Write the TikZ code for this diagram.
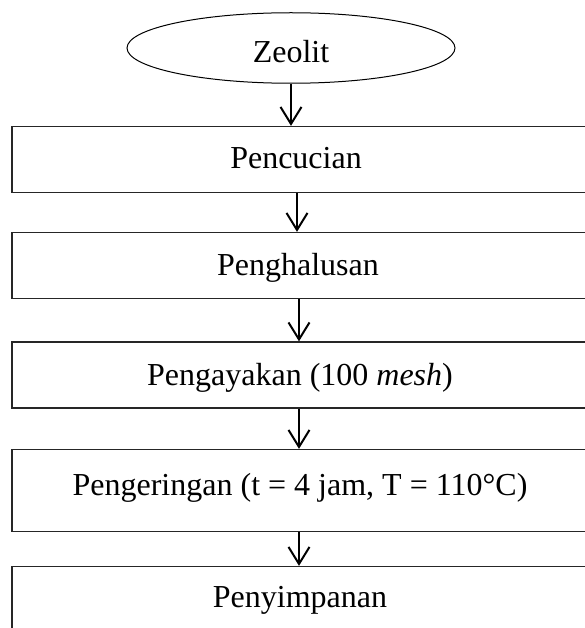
\documentclass[tikz,border=0pt]{standalone}
\usepackage{fontspec}
\setmainfont{Liberation Serif}
\usetikzlibrary{arrows.meta,shapes.geometric}
\begin{document}
\begin{tikzpicture}[x=1pt,y=-1pt,
  stepbox/.style={draw=black!85,line width=1.3pt,rectangle,inner sep=0pt,minimum width=580pt},
  label/.style={font=\fontsize{32}{36}\selectfont,anchor=base,inner sep=0pt},
  flow/.style={draw=black,line width=2pt,-{Straight Barb[length=17pt,width=21pt,line width=2pt]}}]
\useasboundingbox (0,0) rectangle (585,628);
\clip (0,0) rectangle (585,628);
\fill[white] (0,0) rectangle (585,628);

% start terminal
\node[ellipse,draw,line width=1pt,minimum width=328pt,minimum height=70.5pt,inner sep=0pt] (zeo) at (291,48) {};
\node[label] (tzeo) at (291,63) {Zeolit};

% process steps
\node[stepbox,minimum height=66pt] (b1) at (302,159.5) {};
\node[stepbox,minimum height=66pt] (b2) at (302,265.5) {};
\node[stepbox,minimum height=66pt] (b3) at (302,375) {};
\node[stepbox,minimum height=82pt] (b4) at (302,490.5) {};
\node[stepbox,minimum height=74pt] (b5) at (302,603.5) {};

\node[label] (t1) at (296,169) {Pencucian};
\node[label] (t2) at (298,275) {Penghalusan};
\node[label] (t3) at (300,385) {Pengayakan (100 \textit{mesh})};
\node[label] (t4) at (300,495) {Pengeringan (t = 4 jam, T = 110°C)};
\node[label] (t5) at (300,607) {Penyimpanan};

% connectors
\draw[flow] (zeo.south) -- (zeo.south |- b1.north);
\draw[flow] ([xshift=-5pt]b1.south) -- ([xshift=-5pt]b2.north);
\draw[flow] ([xshift=-3pt]b2.south) -- ([xshift=-3pt]b3.north);
\draw[flow] ([xshift=-3pt]b3.south) -- ([xshift=-3pt]b4.north);
\draw[flow] ([xshift=-3pt]b4.south) -- ([xshift=-3pt]b5.north);
\end{tikzpicture}
\end{document}
